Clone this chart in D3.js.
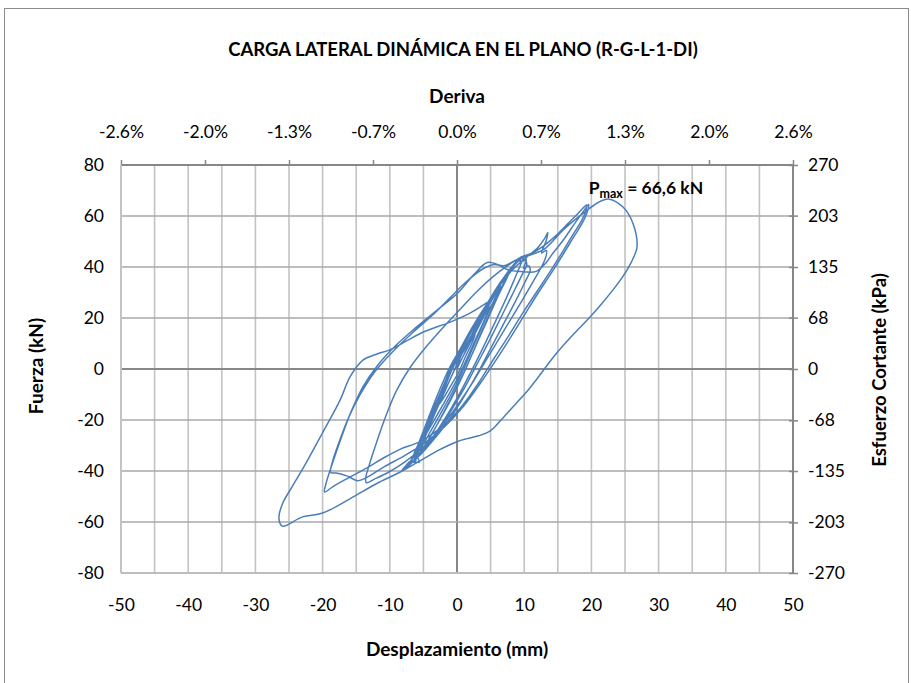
<!DOCTYPE html>
<html>
<head>
<meta charset="utf-8">
<script src="https://cdn.jsdelivr.net/npm/d3@7"></script>
<style>
  html, body { margin: 0; padding: 0; background: #ffffff; }
  svg { display: block; }
  text { font-family: Lato, "Open Sans", sans-serif; fill: #000; }
</style>
</head>
<body>
<svg id="chart" width="911" height="683"></svg>
<script>
// Hysteresis record: displacement (mm), lateral force (kN), in test order
const cycle1 = [[0,0],[1,5.5],[2,10.5],[2.7,13.5],[2.2,10],[1.2,4.5],[0.3,-1],[-0.8,-6],[-1.8,-10.5],[-2.7,-14],[-2.2,-10.5],[-1.2,-5],[-0.3,0]];
const cycle2 = [[0.8,4.5],[2,10.5],[3.2,16.5],[4.3,22],[4.9,24.5],[4.2,20],[3,13],[1.8,6],[0.6,-1],[-0.8,-8],[-2.2,-14.5],[-3.5,-20.5],[-4.6,-25.5],[-5,-27],[-4.2,-22],[-3,-14.5],[-1.8,-7],[-0.5,1]];
const cycle3 = [[1,7],[2.5,14],[4,21.5],[5.3,27.5],[6.2,31.5],[6.5,32.5],[5.6,27.5],[4.2,19.5],[2.8,11],[1.4,2.5],[0,-5.5],[-1.6,-13.5],[-3.2,-21],[-4.7,-28],[-5.9,-33],[-6.4,-35],[-5.5,-29.5],[-4.2,-21.5],[-2.8,-12.5],[-1.4,-4]];
const cycle4 = [[0,4],[1.6,12],[3.3,20],[4.9,27.5],[6.2,33],[7.2,36.5],[7.5,37],[6.8,33],[5.4,25],[3.8,15.5],[2.2,5.5],[0.6,-4],[-1.2,-13.5],[-3,-22],[-4.8,-30],[-6.3,-35.5],[-7.2,-38],[-6.5,-34.5],[-5.2,-27],[-3.8,-18],[-2.3,-8.5],[-0.8,1]];
const cycle4b = [[0.8,8],[2.5,16.5],[4.2,24.5],[5.8,31],[7,35.5],[7.8,38],[7.4,35.5],[6,28],[4.4,18.5],[2.7,8.5],[1,-1.5],[-0.8,-11],[-2.6,-20],[-4.4,-28.5],[-6,-34.5],[-7.1,-37.5],[-7.4,-38.2],[-6.8,-35.5],[-5.6,-29],[-4.2,-20],[-2.6,-10],[-1,-0.5]];
const cycle5 = [[0.5,6],[2.2,15],[4,23.5],[5.8,31],[7.4,37.5],[8.7,41.8],[9.6,44],[9.4,42],[10.1,42.6],[10.4,41.2],[9.6,36.5],[8.2,29],[6.5,20],[4.8,11],[3,2],[1.2,-7],[-0.8,-16],[-2.8,-24.5],[-4.8,-31.5],[-6.6,-36.5],[-7.8,-39.2],[-8.3,-40.2],[-7.6,-38],[-6.6,-36.6],[-5.6,-36.5],[-5.9,-34],[-4.8,-27],[-3.3,-17.5],[-1.6,-7.5]];
const cycle5b = [[0.2,3],[2,12.5],[3.8,21.5],[5.7,30],[7.6,37.5],[9,42],[10,44.2],[10.3,42.5],[9.9,39.5],[10.6,40.5],[10.9,39],[10.1,34],[8.6,26],[6.8,17],[5,8],[3.1,-1.5],[1,-11],[-1.2,-20],[-3.4,-27.5],[-5.4,-33.5],[-7,-37],[-7.6,-38],[-7,-36.2],[-6.1,-35.8],[-6.4,-33.5],[-5.2,-27],[-3.6,-17],[-1.8,-7]];
const cycle5c = [[0,5],[2,14],[4,23],[6,31.5],[7.8,38.5],[9.2,42.5],[9.9,43.8],[9.6,41.8],[8.6,35.5],[7.2,27],[5.6,18],[3.9,8.5],[2.1,-1],[0.2,-10.5],[-1.8,-19.5],[-3.8,-27.5],[-5.6,-33.5],[-6.9,-37],[-7.3,-37.8],[-6.8,-35.5],[-5.7,-29],[-4.3,-19.5],[-2.8,-9.5],[-1.2,0]];
const cycle6 = [[0.4,7.5],[2.2,16],[4.2,24.5],[6.3,32.5],[8.3,39],[10.2,43.5],[12,47.5],[13,51],[13.5,53.5],[13.3,50.5],[12.6,45.5],[13.3,46.5],[13.1,43],[11.6,35.5],[9.5,26],[7.2,16],[4.8,5.5],[2.4,-5],[0,-14.5],[-2.6,-23.5],[-5.2,-31],[-7.8,-36.5],[-10.2,-40.5],[-12.3,-43.2],[-13.5,-44.6],[-13.6,-43],[-13.1,-38],[-12,-29],[-10.6,-18.5],[-9,-8.5],[-7,0.5],[-4.5,9],[-2,16.5],[0.5,23.5],[3,30.5],[5.5,36.5],[7.8,41],[9.6,44]];
const cycle7 = [[11.2,45.5],[13,48.5],[14.8,52.5],[16.5,57],[18,61],[19.3,64.3],[19.1,61.5],[18.5,58],[17.2,52.5],[15.6,45.5],[13.8,38],[11.8,30],[9.8,22],[7.8,13.5],[5.6,4.5],[3.2,-5.5],[0.6,-15],[-2.4,-23],[-5.5,-28.5],[-8.5,-31.5],[-11,-35],[-13.4,-38.8],[-16,-42.5],[-18.4,-46],[-19.7,-48.2],[-19.5,-45],[-18.6,-37.5],[-17.3,-27.5],[-15.8,-17],[-14,-7],[-11.8,1.5],[-9,9.5],[-6,16.5],[-3,23],[0,29.5],[2.5,37],[4.5,41.8],[6,41],[7.5,39],[9.5,38.2],[11.8,38.3],[13.2,41.5],[14.3,45.5],[15.8,50.5],[17.5,57],[19,62.5],[19.6,64.5]];
const cycle8 = [[19.3,61],[18.6,57],[17.3,51.5],[15.8,45],[14,37.5],[12,29.5],[10,21],[8,12.5],[5.8,3.5],[3.5,-5.5],[1,-14.5],[-1.8,-22.5],[-4.8,-29],[-7.8,-34],[-10.8,-38.3],[-13.4,-42.5],[-14.8,-43.8],[-16.3,-42],[-18,-40.8],[-18.8,-40.6],[-18.6,-37],[-17.6,-29],[-16.2,-19.5],[-14.4,-10],[-12.2,-1],[-9.5,7],[-6.5,14.5],[-3.5,21.5],[-1,28],[1.5,34.5],[4,39.5],[5.5,41],[7,40.5],[9,43],[11.2,45],[13,47]];
const cycle9 = [[16,55],[19,61.5],[21,65.3],[22.5,66.7],[24.7,63.5],[26.2,57],[26.8,48],[26.4,44.5],[25.3,38.8],[23.5,32],[21.5,25.5],[19.8,20.4],[17.3,13.5],[14.6,5.5],[12,-3.5],[10.6,-8.2],[8.8,-13.5],[6.9,-19],[4.9,-24.4],[3.2,-26.2],[1.5,-27.3],[0,-28.5],[-2.5,-31.5],[-5.5,-36],[-8.5,-40.5],[-12,-45],[-16,-51],[-20,-56.5],[-23,-58],[-26,-61.6],[-26.5,-58.5],[-26,-53],[-24.5,-46],[-22.6,-37.5],[-20,-25],[-17.4,-12.2],[-15.9,-3],[-14,3.5],[-12,5.8],[-10,7.5],[-7.5,11],[-5,14.5],[-1,18.4],[2,22],[5,27]];

const loops = [cycle1, cycle2, cycle3, cycle4, cycle4b, cycle5, cycle5b, cycle5c, cycle6, cycle7, cycle8, cycle9];

// Axis ticks
const forceTicks = [80, 60, 40, 20, 0, -20, -40, -60, -80];
const dispTicks = [-50, -40, -30, -20, -10, 0, 10, 20, 30, 40, 50];
const stressTicks = [270, 203, 135, 68, 0, -68, -135, -203, -270];
const driftTickMm = [-50, -37.5, -25, -12.5, 0, 12.5, 25, 37.5, 50];
const wallHeightMm = 1920;   // drift = displacement / height
const kPaPerKN = 270 / 80;   // shear stress per unit force
const peakForce = 66.6;

const svg = d3.select("#chart");
const plotL = 121, plotR = 793, plotT = 165, plotB = 573;
const tickFont = 17.5, titleFont = 18.5;

const x = d3.scaleLinear().domain([-50, 50]).range([plotL, plotR]);
const y = d3.scaleLinear().domain([-80, 80]).range([plotB, plotT]);
const yStress = d3.scaleLinear().domain([-80 * kPaPerKN, 80 * kPaPerKN]).range([plotB, plotT]);
const plain = d => String(d);

// outer frame
svg.append("rect").attr("x", 4.5).attr("y", 8.5).attr("width", 904).attr("height", 700)
  .attr("fill", "none").attr("stroke", "#8c8c8c").attr("stroke-width", 1);

// vertical grid every 5 mm
const g = svg.append("g");
g.selectAll("line.vg").data(d3.range(-45, 50, 5)).join("line")
  .attr("x1", d => x(d)).attr("x2", d => x(d)).attr("y1", plotT).attr("y2", plotB)
  .attr("stroke", d => d === 0 ? "#878787" : "#c3c3c3").attr("stroke-width", d => d === 0 ? 2 : 1.6);
// horizontal grid every 20 kN
g.selectAll("line.hg").data(forceTicks.filter(v => v !== 80 && v !== -80)).join("line")
  .attr("x1", plotL).attr("x2", plotR).attr("y1", d => y(d)).attr("y2", d => y(d))
  .attr("stroke", d => d === 0 ? "#878787" : "#a9a9a9").attr("stroke-width", d => d === 0 ? 2 : 1.6);

// plot frame
g.append("line").attr("x1", plotL).attr("x2", plotR).attr("y1", plotT).attr("y2", plotT).attr("stroke", "#878787").attr("stroke-width", 2);
g.append("line").attr("x1", plotL).attr("x2", plotR).attr("y1", plotB).attr("y2", plotB).attr("stroke", "#bdbdbd").attr("stroke-width", 2);
g.append("line").attr("x1", plotL).attr("x2", plotL).attr("y1", plotT).attr("y2", plotB).attr("stroke", "#c3c3c3").attr("stroke-width", 2);
g.append("line").attr("x1", plotR).attr("x2", plotR).attr("y1", plotT).attr("y2", plotB).attr("stroke", "#878787").attr("stroke-width", 2);

// top (drift) axis
const topAxis = d3.axisTop(x).tickValues(driftTickMm).tickSize(5).tickPadding(22)
  .tickFormat(d => (d / wallHeightMm * 100).toFixed(1) + "%");
const gt = svg.append("g").attr("transform", `translate(0,${plotT})`).call(topAxis);
gt.select(".domain").remove();
gt.selectAll(".tick line").attr("stroke", "#878787").attr("stroke-width", 1.5);
gt.selectAll(".tick text").attr("y", -27).attr("font-size", tickFont).attr("font-family", "Lato");

// right (stress) axis
const rightAxis = d3.axisRight(yStress).tickValues(stressTicks).tickSizeInner(5).tickSizeOuter(0).tickPadding(10)
  .tickFormat(plain);
const gr = svg.append("g").attr("transform", `translate(${plotR},0)`).call(rightAxis);
gr.select(".domain").remove();
gr.selectAll(".tick line").attr("x1", -4).attr("stroke", "#878787").attr("stroke-width", 1.5);
gr.selectAll(".tick text").attr("font-size", tickFont).attr("font-family", "Lato");

// left (force) axis
const leftAxis = d3.axisLeft(y).tickValues(forceTicks).tickSize(0).tickPadding(17).tickFormat(plain);
const gl = svg.append("g").attr("transform", `translate(${plotL},0)`).call(leftAxis);
gl.select(".domain").remove();
gl.selectAll(".tick text").attr("font-size", tickFont).attr("font-family", "Lato");

// bottom (displacement) axis
const bottomAxis = d3.axisBottom(x).tickValues(dispTicks).tickSize(0).tickPadding(26).tickFormat(plain);
const gb = svg.append("g").attr("transform", `translate(0,${plotB})`).call(bottomAxis);
gb.select(".domain").remove();
gb.selectAll(".tick text").attr("font-size", tickFont).attr("font-family", "Lato");

// hysteresis curve
const record = loops.flat();
const line = d3.line().x(d => x(d[0])).y(d => y(d[1])).curve(d3.curveCatmullRom.alpha(0.5));
svg.append("path").datum(record).attr("d", line)
  .attr("fill", "none").attr("stroke", "#4a7ebb").attr("stroke-width", 1.5).attr("stroke-linejoin", "round");

// titles
svg.append("text").attr("x", 463).attr("y", 56).attr("text-anchor", "middle")
  .attr("font-weight", "bold").attr("font-size", titleFont).text("CARGA LATERAL DINÁMICA EN EL PLANO (R-G-L-1-DI)");
svg.append("text").attr("x", 457).attr("y", 103).attr("text-anchor", "middle")
  .attr("font-weight", "bold").attr("font-size", titleFont + 0.5).text("Deriva");
svg.append("text").attr("x", 457).attr("y", 656).attr("text-anchor", "middle")
  .attr("font-weight", "bold").attr("font-size", titleFont + 0.5).text("Desplazamiento (mm)");
svg.append("text").attr("transform", "translate(43,366) rotate(-90)").attr("text-anchor", "middle")
  .attr("font-weight", "bold").attr("font-size", titleFont + 0.5).text("Fuerza (kN)");
svg.append("text").attr("transform", "translate(886,370) rotate(-90)").attr("text-anchor", "middle")
  .attr("font-weight", "bold").attr("font-size", titleFont).text("Esfuerzo Cortante  (kPa)");

// peak annotation
const pm = svg.append("text").attr("x", x(19.6)).attr("y", y(peakForce) - 5)
  .attr("font-weight", "bold").attr("font-size", 17.5);
pm.append("tspan").text("P");
pm.append("tspan").attr("dy", 4).attr("font-size", 12.5).text("max");
pm.append("tspan").attr("dy", -4).text(" = " + String(peakForce).replace(".", ",") + " kN");
</script>
</body>
</html>
